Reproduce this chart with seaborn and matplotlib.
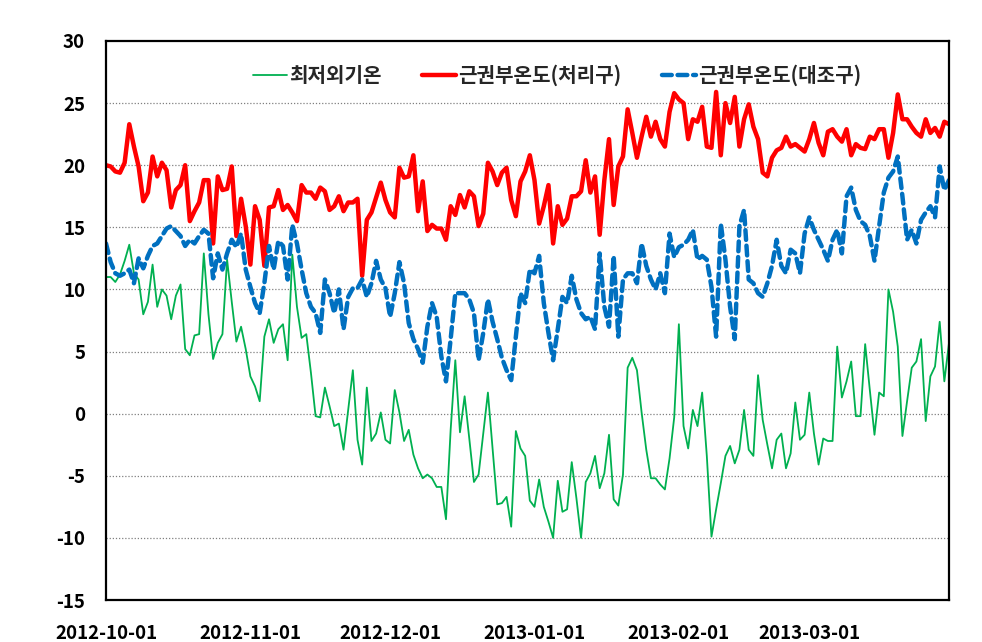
import numpy as np
import pandas as pd
import matplotlib
matplotlib.use("Agg")
import matplotlib.pyplot as plt
import matplotlib.dates as mdates
import seaborn as sns

start_date = "2012-10-01"
n_days = 182

# 최저외기온 (daily minimum outdoor temperature)
min_outdoor = [
    11.0, 11.0, 10.6, 11.2, 12.3, 13.6, 11.3, 10.8, 8.0, 9.0,
    12.0, 8.6, 10.0, 9.5, 7.6, 9.5, 10.4, 5.2, 4.7, 6.3,
    6.4, 12.9, 8.0, 4.4, 5.7, 6.4, 12.4, 9.0, 5.8, 7.0,
    5.2, 3.0, 2.2, 1.0, 6.2, 7.6, 5.7, 6.8, 7.2, 4.3,
    12.8, 8.6, 6.1, 6.4, 3.3, -0.2, -0.3, 2.1, 0.6, -1.0,
    -0.8, -2.9, 0.3, 3.5, -2.1, -4.1, 2.1, -2.2, -1.6, 0.1,
    -2.1, -2.4, 1.9, 0.1, -2.2, -1.3, -3.3, -4.4, -5.2, -4.9,
    -5.2, -5.9, -5.9, -8.5, -1.3, 4.3, -1.5, 1.4, -2.0, -5.5,
    -4.9, -1.6, 1.7, -2.8, -7.3, -7.2, -6.7, -9.1, -1.4, -2.8,
    -3.4, -7.0, -7.5, -5.3, -7.5, -8.7, -10.0, -5.4, -7.9, -7.7,
    -3.9, -6.8, -10.0, -5.5, -4.8, -3.4, -6.0, -4.8, -1.7, -6.9,
    -7.4, -4.9, 3.7, 4.5, 3.5, 0.1, -2.9, -5.2, -5.2, -5.7,
    -6.1, -3.6, -0.3, 7.2, -1.0, -2.8, 0.3, -1.0, 1.7, -3.4,
    -9.9, -7.7, -5.6, -3.4, -2.6, -4.0, -2.9, 0.3, -2.9, -3.4,
    3.1, -0.5, -2.5, -4.4, -2.1, -1.6, -4.4, -3.2, 0.9, -2.1,
    -1.7, 1.7, -1.6, -4.1, -2.0, -2.2, -2.2, 5.4, 1.3, 2.6,
    4.2, -0.2, -0.2, 5.6, 1.9, -1.7, 1.7, 1.4, 10.0, 8.2,
    5.4, -1.8, 1.0, 3.7, 4.2, 6.0, -0.6, 3.0, 3.8, 7.4,
    2.6, 5.7,
]

# 근권부온도(처리구) (root-zone temperature, treatment)
root_treat = [
    20.0, 19.9, 19.5, 19.4, 20.2, 23.3, 21.5, 19.9, 17.1, 17.8,
    20.7, 19.1, 20.2, 19.6, 16.6, 18.0, 18.4, 20.0, 15.5, 16.3,
    17.0, 18.8, 18.8, 13.7, 19.1, 18.0, 18.1, 19.9, 14.3, 17.3,
    15.1, 12.0, 16.7, 15.6, 11.9, 16.6, 16.7, 18.0, 16.4, 16.8,
    16.2, 15.5, 18.4, 17.8, 17.8, 17.3, 18.2, 17.9, 16.4, 16.7,
    17.5, 16.3, 17.0, 17.0, 17.3, 11.1, 15.6, 16.2, 17.4, 18.6,
    17.2, 16.2, 15.8, 19.8, 19.0, 19.1, 20.8, 16.3, 18.7, 14.7,
    15.2, 14.9, 14.9, 14.0, 16.7, 16.0, 17.6, 16.6, 17.9, 17.5,
    15.1, 16.1, 20.2, 19.5, 18.4, 19.4, 19.8, 17.2, 15.9, 18.7,
    19.5, 20.8, 18.8, 15.3, 16.7, 18.4, 13.7, 16.7, 15.2, 15.7,
    17.5, 17.5, 17.9, 20.4, 17.8, 19.1, 14.4, 18.8, 22.1, 16.8,
    19.9, 20.7, 24.5, 22.6, 20.6, 22.3, 23.9, 22.3, 23.5, 22.1,
    21.5, 24.3, 25.8, 25.3, 25.0, 22.1, 23.7, 23.5, 24.7, 21.5,
    21.4, 25.9, 20.8, 25.0, 23.4, 25.5, 21.5, 23.7, 24.9, 23.1,
    22.1, 19.4, 19.1, 20.6, 21.2, 21.4, 22.3, 21.5, 21.7, 21.4,
    21.1, 22.1, 23.4, 21.8, 20.8, 22.7, 22.9, 22.3, 21.9, 22.9,
    20.8, 21.7, 21.4, 21.3, 22.3, 22.1, 22.9, 22.9, 20.6, 22.6,
    25.7, 23.7, 23.7, 23.1, 22.6, 22.3, 23.7, 22.6, 23.0, 22.3,
    23.5, 23.3,
]

# 근권부온도(대조구) (root-zone temperature, control)
root_ctrl = [
    13.7, 12.2, 11.3, 11.1, 11.3, 11.6, 10.5, 12.5, 11.7, 12.7,
    13.5, 13.7, 14.3, 14.9, 15.1, 14.7, 14.3, 13.5, 14.0, 13.7,
    14.3, 14.8, 14.5, 10.9, 12.9, 11.6, 12.9, 14.0, 13.4, 14.5,
    11.6, 10.2, 8.9, 8.1, 10.5, 13.5, 11.6, 13.9, 13.5, 10.8,
    15.2, 13.7, 11.6, 9.7, 8.6, 8.1, 6.5, 10.8, 9.7, 8.1,
    10.0, 6.8, 9.4, 10.1, 10.1, 10.8, 9.4, 10.5, 12.3, 10.8,
    10.1, 7.8, 9.7, 12.2, 10.5, 7.3, 6.0, 5.2, 4.1, 7.0,
    8.9, 7.8, 4.6, 2.6, 6.0, 9.7, 9.7, 9.7, 9.2, 8.1,
    4.3, 6.5, 9.2, 7.4, 6.0, 4.5, 3.5, 2.7, 6.2, 9.7,
    8.9, 11.6, 11.3, 12.7, 8.9, 6.5, 4.3, 6.8, 9.4, 8.9,
    11.1, 9.2, 8.1, 7.6, 7.8, 6.8, 12.9, 8.6, 7.0, 12.7,
    6.2, 10.8, 11.3, 11.3, 10.5, 13.7, 11.9, 10.8, 10.0, 11.3,
    9.7, 14.5, 12.6, 13.4, 13.6, 14.0, 14.8, 12.4, 12.7, 12.4,
    10.2, 6.2, 15.3, 12.4, 8.6, 6.0, 15.1, 16.4, 10.8, 10.5,
    9.7, 9.4, 10.5, 11.9, 14.0, 11.9, 11.3, 13.2, 12.9, 11.3,
    14.5, 15.8, 14.8, 14.0, 13.2, 12.3, 14.0, 14.8, 12.9, 17.5,
    18.2, 16.4, 15.5, 15.2, 14.3, 12.3, 15.1, 17.8, 19.0, 19.5,
    20.7, 17.5, 14.0, 14.8, 13.7, 15.6, 16.2, 16.7, 15.8, 19.9,
    18.0, 18.8,
]

series_labels = ["최저외기온", "근권부온도(처리구)", "근권부온도(대조구)"]
tick_dates = ["2012-10-01", "2012-11-01", "2012-12-01", "2013-01-01", "2013-02-01", "2013-03-01"]
y_ticks = [-15, -10, -5, 0, 5, 10, 15, 20, 25, 30]

dates = pd.date_range(start_date, periods=n_days, freq="D")
df = pd.DataFrame({
    "date": dates,
    series_labels[0]: min_outdoor,
    series_labels[1]: root_treat,
    series_labels[2]: root_ctrl,
})

sns.set_style("white")
plt.rcParams["font.family"] = ["Noto Sans CJK KR", "DejaVu Sans"]
plt.rcParams["axes.unicode_minus"] = False

fig = plt.figure(figsize=(9.82, 6.42), dpi=100)
ax = fig.add_axes([106 / 982, 1 - 600 / 642, (949 - 106) / 982, (600 - 41) / 642])

sns.lineplot(data=df, x="date", y=series_labels[0], ax=ax, color="#00B050",
             linewidth=1.3, label=series_labels[0])
sns.lineplot(data=df, x="date", y=series_labels[1], ax=ax, color="#FF0000",
             linewidth=3.2, label=series_labels[1])
sns.lineplot(data=df, x="date", y=series_labels[2], ax=ax, color="#0070C0",
             linewidth=3.2, label=series_labels[2])
blue_line = ax.get_lines()[2]
blue_line.set_dashes([2.2, 1.3])
blue_line.set_dash_capstyle("round")

ax.set_xlim(pd.Timestamp("2012-10-01"), pd.Timestamp("2013-03-31"))
ax.set_ylim(-15, 30)
ax.set_yticks(y_ticks)
ax.set_xticks([pd.Timestamp(d) for d in tick_dates] + [pd.Timestamp("2013-03-31")])
ax.set_xticklabels(tick_dates + [""])
ax.set_xlabel("")
ax.set_ylabel("")

for yv in y_ticks[1:-1]:
    ax.axhline(yv, color="#808080", linestyle=(0, (1, 1.5)), linewidth=0.9, zorder=0)

for s in ax.spines.values():
    s.set_color("black")
    s.set_linewidth(1.6)

ax.tick_params(axis="x", direction="out", length=4, width=1, color="#808080",
               labelcolor="black", pad=13, labelsize=13.5)
ax.tick_params(axis="y", direction="out", length=6, width=1, color="#808080",
               labelcolor="black", pad=9, labelsize=13.5)
for lab in ax.get_xticklabels() + ax.get_yticklabels():
    lab.set_fontweight("bold")

leg = ax.legend(loc="center", bbox_to_anchor=(0.535, 0.939), ncol=3, frameon=False,
                handlelength=1.7, handletextpad=0.1, columnspacing=2.0,
                prop={"size": 14.5, "weight": "bold"})

fig.savefig("out.png", dpi=100)
